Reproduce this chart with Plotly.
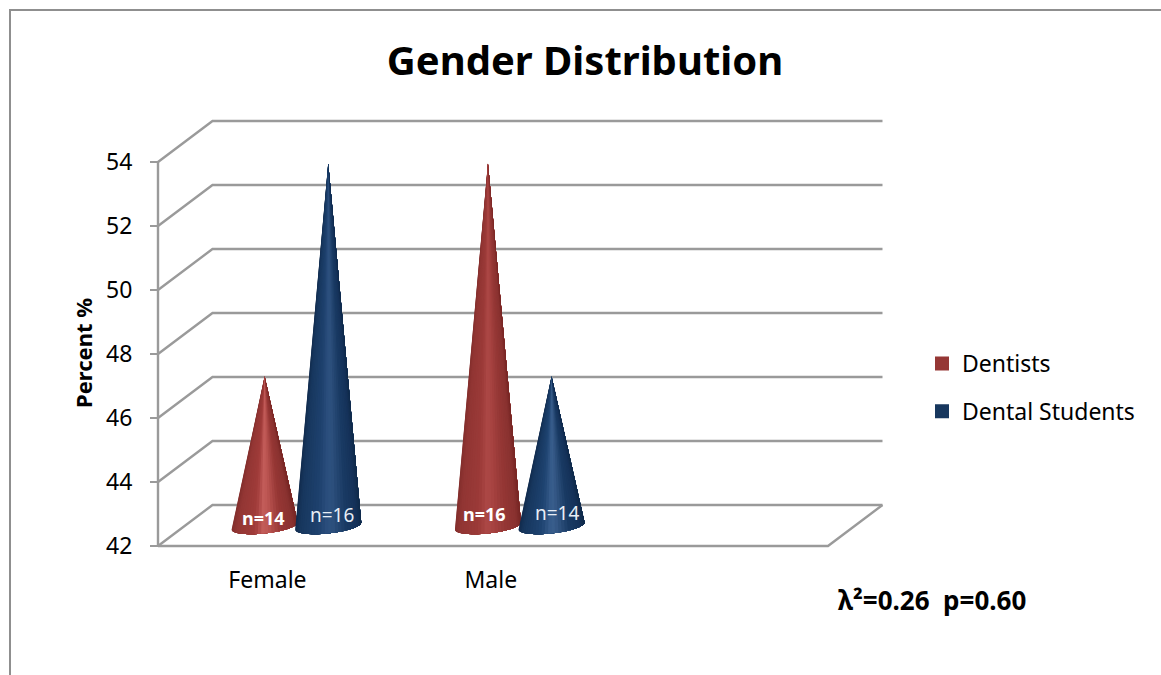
import math
import plotly.graph_objects as go

# ---- data ----
categories = ["Female", "Male"]
dentists = [46.67, 53.33]
dental_students = [53.33, 46.67]
dentists_n = ["n=14", "n=16"]
students_n = ["n=16", "n=14"]
y_ticks = [42, 44, 46, 48, 50, 52, 54]
chart_title = "Gender Distribution"
stat_text = "λ²=0.26  p=0.60"

# ---- layout constants (page px -> axis units) ----
W, H = 1161, 675
LEFT, BASE = 158, 546          # page position of x=0, y=42
PX_X, PX_Y = 223.33, 32.0      # px per category, px per value unit
N_SLOTS = 3
DEPTH_X, DEPTH_Y = 54.5 / PX_X, 41 / PX_Y
X0, Y0 = 0, y_ticks[0]
Y1 = y_ticks[-1]
GRID = "#9a9a9a"
FONT = "Noto Sans"
TXT = "#000000"


def px_x(p):
    return (p - LEFT) / PX_X


def px_y(p):
    return Y0 + (BASE - p) / PX_Y


def hexrgb(c):
    return [int(c[i:i + 2], 16) for i in (1, 3, 5)]


def shade(stops, t):
    for (t0, c0), (t1, c1) in zip(stops, stops[1:]):
        if t <= t1:
            f = (t - t0) / (t1 - t0)
            a, b = hexrgb(c0), hexrgb(c1)
            return "rgb(%d,%d,%d)" % tuple(round(a[i] + (b[i] - a[i]) * f) for i in range(3))
    return stops[-1][1]


RED = [(-1, "#832e2c"), (-0.85, "#933634"), (-0.3, "#a03c3a"), (-0.05, "#c25c59"), (0.1, "#bd5653"),
       (0.5, "#973735"), (0.85, "#8a3230"), (1, "#762624")]
RED2 = [(-1, "#832e2c"), (-0.85, "#913533"), (-0.3, "#9b3a38"), (-0.05, "#ab4745"), (0.1, "#aa4543"),
        (0.5, "#953735"), (0.85, "#8a3230"), (1, "#762624")]
BLUE = [(-1, "#122c4e"), (-0.85, "#17375e"), (-0.3, "#1e416e"), (0.0, "#2c507f"), (0.15, "#2c4f7c"),
        (0.55, "#193a63"), (0.85, "#15325a"), (1, "#102a4a")]
BLUE2 = [(-1, "#122c4e"), (-0.85, "#17375e"), (-0.3, "#1f4472"), (0.0, "#3a5f8e"), (0.12, "#365a88"),
         (0.55, "#193a63"), (0.85, "#15325a"), (1, "#102a4a")]

fig = go.Figure()


def line(xs, ys, color=GRID, width=2.4):
    fig.add_trace(go.Scatter(x=xs, y=ys, mode="lines", line=dict(color=color, width=width),
                             showlegend=False, hoverinfo="skip"))


# chart frame
line([px_x(W), px_x(10), px_x(10)], [px_y(10), px_y(10), px_y(H)], color="#8f8f8f", width=2)

# 3-D box: walls, floor and gridlines
x_front_end = X0 + N_SLOTS
for v in y_ticks:
    line([X0, X0 + DEPTH_X, x_front_end + DEPTH_X], [v, v + DEPTH_Y, v + DEPTH_Y])
line([X0, X0], [Y0, Y1])
line([X0, x_front_end, x_front_end + DEPTH_X], [Y0, Y0, Y0 + DEPTH_Y])

# cones: nested fans painted left to right, so no background leaks between shades
HALF_W = 33 / PX_X
SHIFT = 31.8 / PX_X
MID_X, MID_Y = DEPTH_X / 2, 20 / PX_Y
ELL, TILT = 7.5 / PX_Y, 3.5 / PX_Y
STRIPS = 30


def cone(cat_i, value, side, stops):
    cx = cat_i + 0.5 + side * SHIFT + MID_X - 0.5 / PX_X
    cy = Y0 + MID_Y
    apex_x, apex_y = cx, value + MID_Y
    angles = [math.pi - math.pi * k / STRIPS for k in range(STRIPS + 1)]
    rim_x = [cx + HALF_W * math.cos(a) for a in angles]
    rim_y = [cy - ELL * math.sin(a) + TILT * math.cos(a) for a in angles]
    for k in range(STRIPS):
        col = shade(stops, math.cos((angles[k] + angles[k + 1]) / 2))
        fig.add_trace(go.Scatter(
            x=[apex_x] + rim_x[k:] + [apex_x], y=[apex_y] + rim_y[k:] + [apex_y],
            mode="none", fill="toself", fillcolor=col, showlegend=False, hoverinfo="skip"))


for i in range(len(categories)):
    cone(i, dentists[i], -1, RED if i == 0 else RED2)
for i in range(len(categories)):
    cone(i, dental_students[i], 1, BLUE2 if i == 1 else BLUE)

# legend entries
fig.add_trace(go.Scatter(x=[None], y=[None], mode="markers", name="Dentists", legendgroup="a",
                         marker=dict(symbol="square", size=15, color="#953735",
                                     line=dict(color="#953735", width=3))))
fig.add_trace(go.Scatter(x=[None], y=[None], mode="markers", name="Dental Students", legendgroup="b",
                         marker=dict(symbol="square", size=15, color="#17375e",
                                     line=dict(color="#17375e", width=3))))

annotations = []
# n= labels sit just above the base of each cone
label_px = {"d0": (263, 518), "s0": (332, 515), "d1": (484, 514), "s1": (557, 513)}
for i in range(len(categories)):
    dx, dy = label_px["d%d" % i]
    sx, sy = label_px["s%d" % i]
    annotations.append(dict(x=px_x(dx), y=px_y(dy), text="<b>%s</b>" % dentists_n[i],
                            font=dict(family=FONT, size=18, color="#ffffff"), showarrow=False))
    annotations.append(dict(x=px_x(sx), y=px_y(sy), text=students_n[i],
                            font=dict(family=FONT, size=19, color="#e8eef6"), showarrow=False))
annotations.append(dict(x=px_x(83), y=px_y(353), text="<b>Percent %</b>", textangle=-90, showarrow=False,
                        font=dict(family=FONT, size=22, color=TXT)))
annotations.append(dict(x=px_x(836), y=px_y(600), text="<b>%s</b>" % stat_text, showarrow=False, xanchor="left",
                        font=dict(family=FONT, size=26, color=TXT)))

fig.update_layout(
    width=W, height=H, margin=dict(l=0, r=0, t=0, b=0), paper_bgcolor="white", plot_bgcolor="white",
    title=dict(text="<b>%s</b>" % chart_title, x=585 / W, y=1 - 61 / H, xanchor="center", yanchor="middle",
               font=dict(family=FONT, size=40, color=TXT)),
    showlegend=True,
    legend=dict(x=922 / W, y=1 - 342 / H, xanchor="left", yanchor="top", tracegroupgap=15,
                font=dict(family=FONT, size=23, color=TXT), bgcolor="rgba(0,0,0,0)", itemsizing="constant"),
    xaxis=dict(range=[px_x(0), px_x(W)], showgrid=False, zeroline=False, showline=False,
               tickmode="array", tickvals=[i + 0.49 for i in range(len(categories))], ticktext=categories,
               ticks="", anchor="free", position=(H - BASE) / H, ticklabelstandoff=18,
               tickfont=dict(family=FONT, size=23, color=TXT)),
    yaxis=dict(range=[px_y(H), px_y(0)], showgrid=False, zeroline=False, showline=False,
               tickmode="array", tickvals=y_ticks, ticks="outside", ticklen=8, tickwidth=2, tickcolor=GRID,
               anchor="free", position=LEFT / W, ticklabelstandoff=13,
               tickfont=dict(family=FONT, size=23, color=TXT)),
    annotations=annotations,
)
fig.write_html("out.html", config={"displayModeBar": False},
               post_script="document.body.style.margin='0';document.documentElement.style.overflow='hidden';")
